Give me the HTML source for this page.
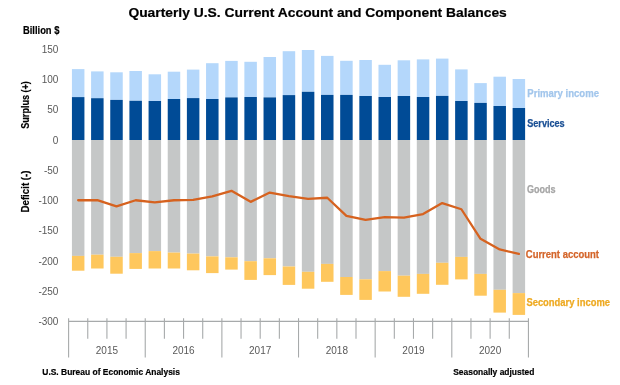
<!DOCTYPE html>
<html><head><meta charset="utf-8"><style>
html,body{margin:0;padding:0;background:#fff;width:620px;height:385px;overflow:hidden}
svg{display:block;will-change:transform}
text{font-family:"Liberation Sans",sans-serif}
.tk{font-size:10px;fill:#595959}
.yr{font-size:10px;fill:#595959}
.b{font-weight:bold;stroke:currentColor;stroke-width:0.2px}
.lb{stroke-width:0.25px}
</style></head><body>
<svg width="620" height="385" viewBox="0 0 620 385">
<rect width="620" height="385" fill="#fff"/>
<text x="128.4" y="16.9" class="b" font-size="13.6" fill="#000" color="#000" textLength="378.4" lengthAdjust="spacingAndGlyphs">Quarterly U.S. Current Account and Component Balances</text>
<text x="23" y="33.7" class="b" font-size="10.2" fill="#000" color="#000" textLength="36.4" lengthAdjust="spacingAndGlyphs">Billion $</text>
<text x="58.4" y="52.9" text-anchor="end" class="tk">150</text>
<text x="58.4" y="83.13" text-anchor="end" class="tk">100</text>
<text x="58.4" y="113.37" text-anchor="end" class="tk">50</text>
<text x="58.4" y="143.6" text-anchor="end" class="tk">0</text>
<text x="58.4" y="173.83" text-anchor="end" class="tk">-50</text>
<text x="58.4" y="204.07" text-anchor="end" class="tk">-100</text>
<text x="58.4" y="234.3" text-anchor="end" class="tk">-150</text>
<text x="58.4" y="264.53" text-anchor="end" class="tk">-200</text>
<text x="58.4" y="294.77" text-anchor="end" class="tk">-250</text>
<text x="58.4" y="325" text-anchor="end" class="tk">-300</text>
<text transform="translate(28.9,128.7) rotate(-90)" class="b" font-size="10.5" fill="#000" color="#000" textLength="47.5" lengthAdjust="spacingAndGlyphs">Surplus (+)</text>
<text transform="translate(28.6,212.5) rotate(-90)" class="b" font-size="10.5" fill="#000" color="#000" textLength="42" lengthAdjust="spacingAndGlyphs">Deficit (-)</text>
<rect x="71.93" y="69.1" width="12.5" height="28" fill="#b4d7fb"/>
<rect x="71.93" y="97.1" width="12.5" height="42.9" fill="#004b96"/>
<rect x="71.93" y="140" width="12.5" height="115.9" fill="#c5c7c7"/>
<rect x="71.93" y="255.9" width="12.5" height="14.8" fill="#fec75d"/>
<rect x="91.09" y="71.4" width="12.5" height="26.8" fill="#b4d7fb"/>
<rect x="91.09" y="98.2" width="12.5" height="41.8" fill="#004b96"/>
<rect x="91.09" y="140" width="12.5" height="114.7" fill="#c5c7c7"/>
<rect x="91.09" y="254.7" width="12.5" height="13.8" fill="#fec75d"/>
<rect x="110.25" y="72.3" width="12.5" height="27.6" fill="#b4d7fb"/>
<rect x="110.25" y="99.9" width="12.5" height="40.1" fill="#004b96"/>
<rect x="110.25" y="140" width="12.5" height="116.8" fill="#c5c7c7"/>
<rect x="110.25" y="256.8" width="12.5" height="16.9" fill="#fec75d"/>
<rect x="129.41" y="71" width="12.5" height="29.8" fill="#b4d7fb"/>
<rect x="129.41" y="100.8" width="12.5" height="39.2" fill="#004b96"/>
<rect x="129.41" y="140" width="12.5" height="113.1" fill="#c5c7c7"/>
<rect x="129.41" y="253.1" width="12.5" height="15.8" fill="#fec75d"/>
<rect x="148.57" y="74.3" width="12.5" height="26.7" fill="#b4d7fb"/>
<rect x="148.57" y="101" width="12.5" height="39" fill="#004b96"/>
<rect x="148.57" y="140" width="12.5" height="111.1" fill="#c5c7c7"/>
<rect x="148.57" y="251.1" width="12.5" height="17.4" fill="#fec75d"/>
<rect x="167.73" y="71.7" width="12.5" height="27.3" fill="#b4d7fb"/>
<rect x="167.73" y="99" width="12.5" height="41" fill="#004b96"/>
<rect x="167.73" y="140" width="12.5" height="112.6" fill="#c5c7c7"/>
<rect x="167.73" y="252.6" width="12.5" height="15.9" fill="#fec75d"/>
<rect x="186.89" y="69.6" width="12.5" height="28.5" fill="#b4d7fb"/>
<rect x="186.89" y="98.1" width="12.5" height="41.9" fill="#004b96"/>
<rect x="186.89" y="140" width="12.5" height="113.6" fill="#c5c7c7"/>
<rect x="186.89" y="253.6" width="12.5" height="16.7" fill="#fec75d"/>
<rect x="206.05" y="63.2" width="12.5" height="35.8" fill="#b4d7fb"/>
<rect x="206.05" y="99" width="12.5" height="41" fill="#004b96"/>
<rect x="206.05" y="140" width="12.5" height="116.4" fill="#c5c7c7"/>
<rect x="206.05" y="256.4" width="12.5" height="16.7" fill="#fec75d"/>
<rect x="225.21" y="60.9" width="12.5" height="36.5" fill="#b4d7fb"/>
<rect x="225.21" y="97.4" width="12.5" height="42.6" fill="#004b96"/>
<rect x="225.21" y="140" width="12.5" height="117.3" fill="#c5c7c7"/>
<rect x="225.21" y="257.3" width="12.5" height="12.3" fill="#fec75d"/>
<rect x="244.37" y="61.8" width="12.5" height="35.2" fill="#b4d7fb"/>
<rect x="244.37" y="97" width="12.5" height="43" fill="#004b96"/>
<rect x="244.37" y="140" width="12.5" height="121.2" fill="#c5c7c7"/>
<rect x="244.37" y="261.2" width="12.5" height="18.7" fill="#fec75d"/>
<rect x="263.53" y="57" width="12.5" height="40.4" fill="#b4d7fb"/>
<rect x="263.53" y="97.4" width="12.5" height="42.6" fill="#004b96"/>
<rect x="263.53" y="140" width="12.5" height="118.3" fill="#c5c7c7"/>
<rect x="263.53" y="258.3" width="12.5" height="16.8" fill="#fec75d"/>
<rect x="282.69" y="51.2" width="12.5" height="43.9" fill="#b4d7fb"/>
<rect x="282.69" y="95.1" width="12.5" height="44.9" fill="#004b96"/>
<rect x="282.69" y="140" width="12.5" height="126.5" fill="#c5c7c7"/>
<rect x="282.69" y="266.5" width="12.5" height="18.4" fill="#fec75d"/>
<rect x="301.85" y="50" width="12.5" height="41.8" fill="#b4d7fb"/>
<rect x="301.85" y="91.8" width="12.5" height="48.2" fill="#004b96"/>
<rect x="301.85" y="140" width="12.5" height="131.8" fill="#c5c7c7"/>
<rect x="301.85" y="271.8" width="12.5" height="16.9" fill="#fec75d"/>
<rect x="321.01" y="55.9" width="12.5" height="39" fill="#b4d7fb"/>
<rect x="321.01" y="94.9" width="12.5" height="45.1" fill="#004b96"/>
<rect x="321.01" y="140" width="12.5" height="123.9" fill="#c5c7c7"/>
<rect x="321.01" y="263.9" width="12.5" height="17.9" fill="#fec75d"/>
<rect x="340.17" y="60.8" width="12.5" height="34.1" fill="#b4d7fb"/>
<rect x="340.17" y="94.9" width="12.5" height="45.1" fill="#004b96"/>
<rect x="340.17" y="140" width="12.5" height="137" fill="#c5c7c7"/>
<rect x="340.17" y="277" width="12.5" height="17.9" fill="#fec75d"/>
<rect x="359.33" y="60" width="12.5" height="36" fill="#b4d7fb"/>
<rect x="359.33" y="96" width="12.5" height="44" fill="#004b96"/>
<rect x="359.33" y="140" width="12.5" height="139.3" fill="#c5c7c7"/>
<rect x="359.33" y="279.3" width="12.5" height="20.6" fill="#fec75d"/>
<rect x="378.49" y="64.8" width="12.5" height="32.2" fill="#b4d7fb"/>
<rect x="378.49" y="97" width="12.5" height="43" fill="#004b96"/>
<rect x="378.49" y="140" width="12.5" height="131.1" fill="#c5c7c7"/>
<rect x="378.49" y="271.1" width="12.5" height="20.4" fill="#fec75d"/>
<rect x="397.65" y="60.3" width="12.5" height="35.7" fill="#b4d7fb"/>
<rect x="397.65" y="96" width="12.5" height="44" fill="#004b96"/>
<rect x="397.65" y="140" width="12.5" height="135.7" fill="#c5c7c7"/>
<rect x="397.65" y="275.7" width="12.5" height="21.1" fill="#fec75d"/>
<rect x="416.81" y="59.4" width="12.5" height="37.6" fill="#b4d7fb"/>
<rect x="416.81" y="97" width="12.5" height="43" fill="#004b96"/>
<rect x="416.81" y="140" width="12.5" height="133.9" fill="#c5c7c7"/>
<rect x="416.81" y="273.9" width="12.5" height="19.9" fill="#fec75d"/>
<rect x="435.97" y="58.6" width="12.5" height="37.3" fill="#b4d7fb"/>
<rect x="435.97" y="95.9" width="12.5" height="44.1" fill="#004b96"/>
<rect x="435.97" y="140" width="12.5" height="122.8" fill="#c5c7c7"/>
<rect x="435.97" y="262.8" width="12.5" height="22" fill="#fec75d"/>
<rect x="455.13" y="69.4" width="12.5" height="31.6" fill="#b4d7fb"/>
<rect x="455.13" y="101" width="12.5" height="39" fill="#004b96"/>
<rect x="455.13" y="140" width="12.5" height="116.9" fill="#c5c7c7"/>
<rect x="455.13" y="256.9" width="12.5" height="22.5" fill="#fec75d"/>
<rect x="474.29" y="83.1" width="12.5" height="19.8" fill="#b4d7fb"/>
<rect x="474.29" y="102.9" width="12.5" height="37.1" fill="#004b96"/>
<rect x="474.29" y="140" width="12.5" height="133.9" fill="#c5c7c7"/>
<rect x="474.29" y="273.9" width="12.5" height="21.8" fill="#fec75d"/>
<rect x="493.45" y="76.7" width="12.5" height="29.3" fill="#b4d7fb"/>
<rect x="493.45" y="106" width="12.5" height="34" fill="#004b96"/>
<rect x="493.45" y="140" width="12.5" height="149.8" fill="#c5c7c7"/>
<rect x="493.45" y="289.8" width="12.5" height="22.8" fill="#fec75d"/>
<rect x="512.61" y="79" width="12.5" height="29" fill="#b4d7fb"/>
<rect x="512.61" y="108" width="12.5" height="32" fill="#004b96"/>
<rect x="512.61" y="140" width="12.5" height="153.1" fill="#c5c7c7"/>
<rect x="512.61" y="293.1" width="12.5" height="21.8" fill="#fec75d"/>
<polyline points="78.18,200.25 97.34,200.05 116.5,206.45 135.66,200.25 154.82,202.45 173.98,200.25 193.14,199.95 212.3,196.45 231.46,190.85 250.62,201.85 269.78,192.55 288.94,196.05 308.1,198.85 327.26,197.75 346.42,215.95 365.58,219.95 384.74,217.05 403.9,217.55 423.06,214.05 442.22,203.05 461.38,209.25 480.54,238.85 499.7,249.45 518.86,253.95" fill="none" stroke="#d6621f" stroke-width="2.3" stroke-linejoin="round" stroke-linecap="round"/>
<line x1="68.6" y1="321.4" x2="528.44" y2="321.4" stroke="#a7aaab" stroke-width="1.1"/>
<line x1="68.6" y1="318.2" x2="68.6" y2="357.5" stroke="#a7aaab" stroke-width="1.1"/>
<line x1="87.76" y1="318.2" x2="87.76" y2="338.8" stroke="#a7aaab" stroke-width="1.1"/>
<line x1="106.92" y1="318.2" x2="106.92" y2="338.8" stroke="#a7aaab" stroke-width="1.1"/>
<line x1="126.08" y1="318.2" x2="126.08" y2="338.8" stroke="#a7aaab" stroke-width="1.1"/>
<line x1="145.24" y1="318.2" x2="145.24" y2="357.5" stroke="#a7aaab" stroke-width="1.1"/>
<line x1="164.4" y1="318.2" x2="164.4" y2="338.8" stroke="#a7aaab" stroke-width="1.1"/>
<line x1="183.56" y1="318.2" x2="183.56" y2="338.8" stroke="#a7aaab" stroke-width="1.1"/>
<line x1="202.72" y1="318.2" x2="202.72" y2="338.8" stroke="#a7aaab" stroke-width="1.1"/>
<line x1="221.88" y1="318.2" x2="221.88" y2="357.5" stroke="#a7aaab" stroke-width="1.1"/>
<line x1="241.04" y1="318.2" x2="241.04" y2="338.8" stroke="#a7aaab" stroke-width="1.1"/>
<line x1="260.2" y1="318.2" x2="260.2" y2="338.8" stroke="#a7aaab" stroke-width="1.1"/>
<line x1="279.36" y1="318.2" x2="279.36" y2="338.8" stroke="#a7aaab" stroke-width="1.1"/>
<line x1="298.52" y1="318.2" x2="298.52" y2="357.5" stroke="#a7aaab" stroke-width="1.1"/>
<line x1="317.68" y1="318.2" x2="317.68" y2="338.8" stroke="#a7aaab" stroke-width="1.1"/>
<line x1="336.84" y1="318.2" x2="336.84" y2="338.8" stroke="#a7aaab" stroke-width="1.1"/>
<line x1="356" y1="318.2" x2="356" y2="338.8" stroke="#a7aaab" stroke-width="1.1"/>
<line x1="375.16" y1="318.2" x2="375.16" y2="357.5" stroke="#a7aaab" stroke-width="1.1"/>
<line x1="394.32" y1="318.2" x2="394.32" y2="338.8" stroke="#a7aaab" stroke-width="1.1"/>
<line x1="413.48" y1="318.2" x2="413.48" y2="338.8" stroke="#a7aaab" stroke-width="1.1"/>
<line x1="432.64" y1="318.2" x2="432.64" y2="338.8" stroke="#a7aaab" stroke-width="1.1"/>
<line x1="451.8" y1="318.2" x2="451.8" y2="357.5" stroke="#a7aaab" stroke-width="1.1"/>
<line x1="470.96" y1="318.2" x2="470.96" y2="338.8" stroke="#a7aaab" stroke-width="1.1"/>
<line x1="490.12" y1="318.2" x2="490.12" y2="338.8" stroke="#a7aaab" stroke-width="1.1"/>
<line x1="509.28" y1="318.2" x2="509.28" y2="338.8" stroke="#a7aaab" stroke-width="1.1"/>
<line x1="528.44" y1="318.2" x2="528.44" y2="357.5" stroke="#a7aaab" stroke-width="1.1"/>
<text x="106.92" y="353.8" text-anchor="middle" class="yr">2015</text>
<text x="183.56" y="353.8" text-anchor="middle" class="yr">2016</text>
<text x="260.2" y="353.8" text-anchor="middle" class="yr">2017</text>
<text x="336.84" y="353.8" text-anchor="middle" class="yr">2018</text>
<text x="413.48" y="353.8" text-anchor="middle" class="yr">2019</text>
<text x="490.12" y="353.8" text-anchor="middle" class="yr">2020</text>
<text x="527.3" y="97.4" class="b lb" font-size="10" fill="#a2c6ec" color="#a2c6ec" textLength="71.7" lengthAdjust="spacingAndGlyphs">Primary income</text>
<text x="527.2" y="126.6" class="b lb" font-size="10" fill="#1a4f94" color="#1a4f94" textLength="37.5" lengthAdjust="spacingAndGlyphs">Services</text>
<text x="526.9" y="192.5" class="b lb" font-size="10" fill="#a6a6a6" color="#a6a6a6" textLength="28.6" lengthAdjust="spacingAndGlyphs">Goods</text>
<text x="525.8" y="257.7" class="b lb" font-size="10" fill="#d4652a" color="#d4652a" textLength="73.2" lengthAdjust="spacingAndGlyphs">Current account</text>
<text x="526.4" y="306.0" class="b lb" font-size="10" fill="#eeaa22" color="#eeaa22" textLength="83.6" lengthAdjust="spacingAndGlyphs">Secondary income</text>
<text x="42.3" y="374.6" class="b" font-size="8.7" fill="#000" color="#000" textLength="137.6" lengthAdjust="spacingAndGlyphs">U.S. Bureau of Economic Analysis</text>
<text x="453.2" y="374.8" class="b" font-size="8.7" fill="#000" color="#000" textLength="81.2" lengthAdjust="spacingAndGlyphs">Seasonally adjusted</text>
</svg>
</body></html>
